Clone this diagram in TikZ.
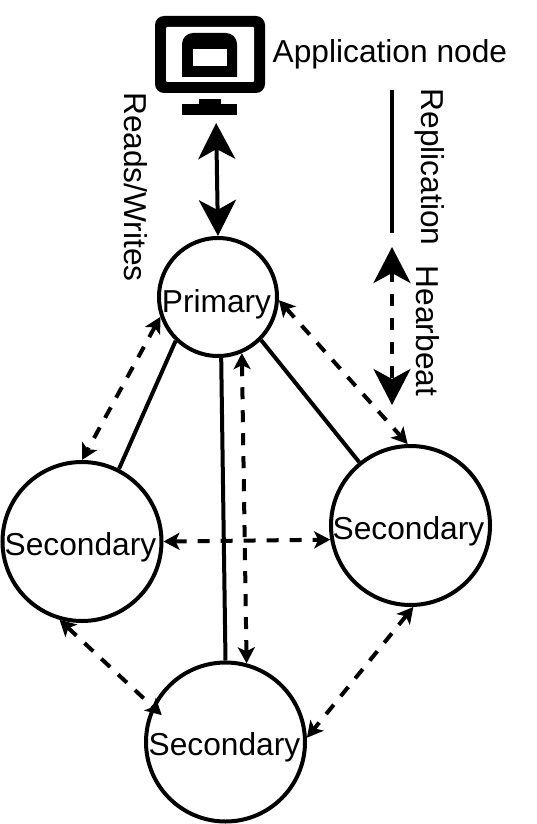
\documentclass[tikz,border=0pt]{standalone}
\usepackage{fontspec}
\setmainfont{Liberation Sans}
\usetikzlibrary{arrows.meta}
\tikzset{
  every node/.style={font=\fontsize{31.7}{38}\selectfont},
  dbnode/.style={draw,circle,line width=4pt,inner sep=0pt,fill=white},
  dblabel/.style={anchor=base,inner sep=0pt},
  replic/.style={line width=4pt},
  heart/.style={line width=4pt,dash pattern=on 12pt off 11pt,{Stealth[length=16pt,width=17pt,inset=4pt]}-{Stealth[length=16pt,width=17pt,inset=4pt]}},
  heartbig/.style={line width=4pt,dash pattern=on 12.5pt off 11.5pt,dash phase=2pt,{Stealth[length=36pt,width=37pt,inset=10pt]}-{Stealth[length=36pt,width=37pt,inset=10pt]}},
  rwarrow/.style={line width=4pt,{Stealth[length=36pt,width=37pt,inset=10pt]}-{Stealth[length=36pt,width=37pt,inset=10pt]}},
  rottext/.style={rotate=-90,inner sep=0pt}
}
\begin{document}
\begin{tikzpicture}[x=1pt,y=-1pt]
\useasboundingbox (0,0) rectangle (536,824);
% monitor icon
\fill[rounded corners=9pt] (155,16) rectangle (265,93);
\fill[white,rounded corners=1pt] (166,27) rectangle (254,82);
\fill (182,77) -- (182,44) to[out=90,in=180] (193,33) -- (226,33) to[out=0,in=90] (237,44) -- (237,77) -- cycle;
\fill[white] (193,49) rectangle (227,66);
\fill (199,99) rectangle (221,105);
\fill (182,104) rectangle (237,115);
\node[inner sep=0pt,outer sep=0pt,minimum width=110pt,minimum height=99pt] (app) at (216,65.5) {};
\node[anchor=base west,inner sep=0pt] (applabel) at (272.5,63) {Application node};
% database nodes
\node[dbnode,minimum size=118pt] (P) at (218,297) {};
\node[dbnode,minimum size=159pt] (L) at (82,541.5) {};
\node[dbnode,minimum size=159pt] (R) at (410.5,525.5) {};
\node[dbnode,minimum size=159pt] (B) at (225.5,742) {};
\node[dblabel] (Pt) at (216.5,312) {Primary};
\node[dblabel] (Lt) at (80.5,555) {Secondary};
\node[dblabel] (Rt) at (408.5,539) {Secondary};
\node[dblabel] (Bt) at (224.5,755) {Secondary};
% replication links
\draw[replic] (P.226) -- (L.63);
\draw[replic] (P.273) -- (B.90);
\draw[replic] (P.-45) -- (R.129.5);
% heartbeat links
\draw[heart] (P.199.6) -- (L.90);
\draw[heart] (P.-3) -- (R.92);
\draw[heart] (P.-67) -- (B.75);
\draw[heart] (L.0) -- (R.190);
\draw[heart,shorten >=-13pt] (L.254) -- (B.154);
\draw[heart] (R.272) -- (B.3);
% reads/writes
\draw[rwarrow,shorten <=8pt] (app.south) -- (P.north);
\node[rottext] (rw) at (136,187) {Reads/Writes};
% legend
\coordinate (a1) at (392,90);
\coordinate (a2) at (392,233);
\draw[replic] (a1) -- (a2);
\node[rottext] (rep) at (430,167) {Replication};
\coordinate (b1) at (392,247);
\coordinate (b2) at (392,405);
\draw[heartbig] (b1) -- (b2);
\node[rottext] (hb) at (428,331) {Hearbeat};
\end{tikzpicture}
\end{document}
